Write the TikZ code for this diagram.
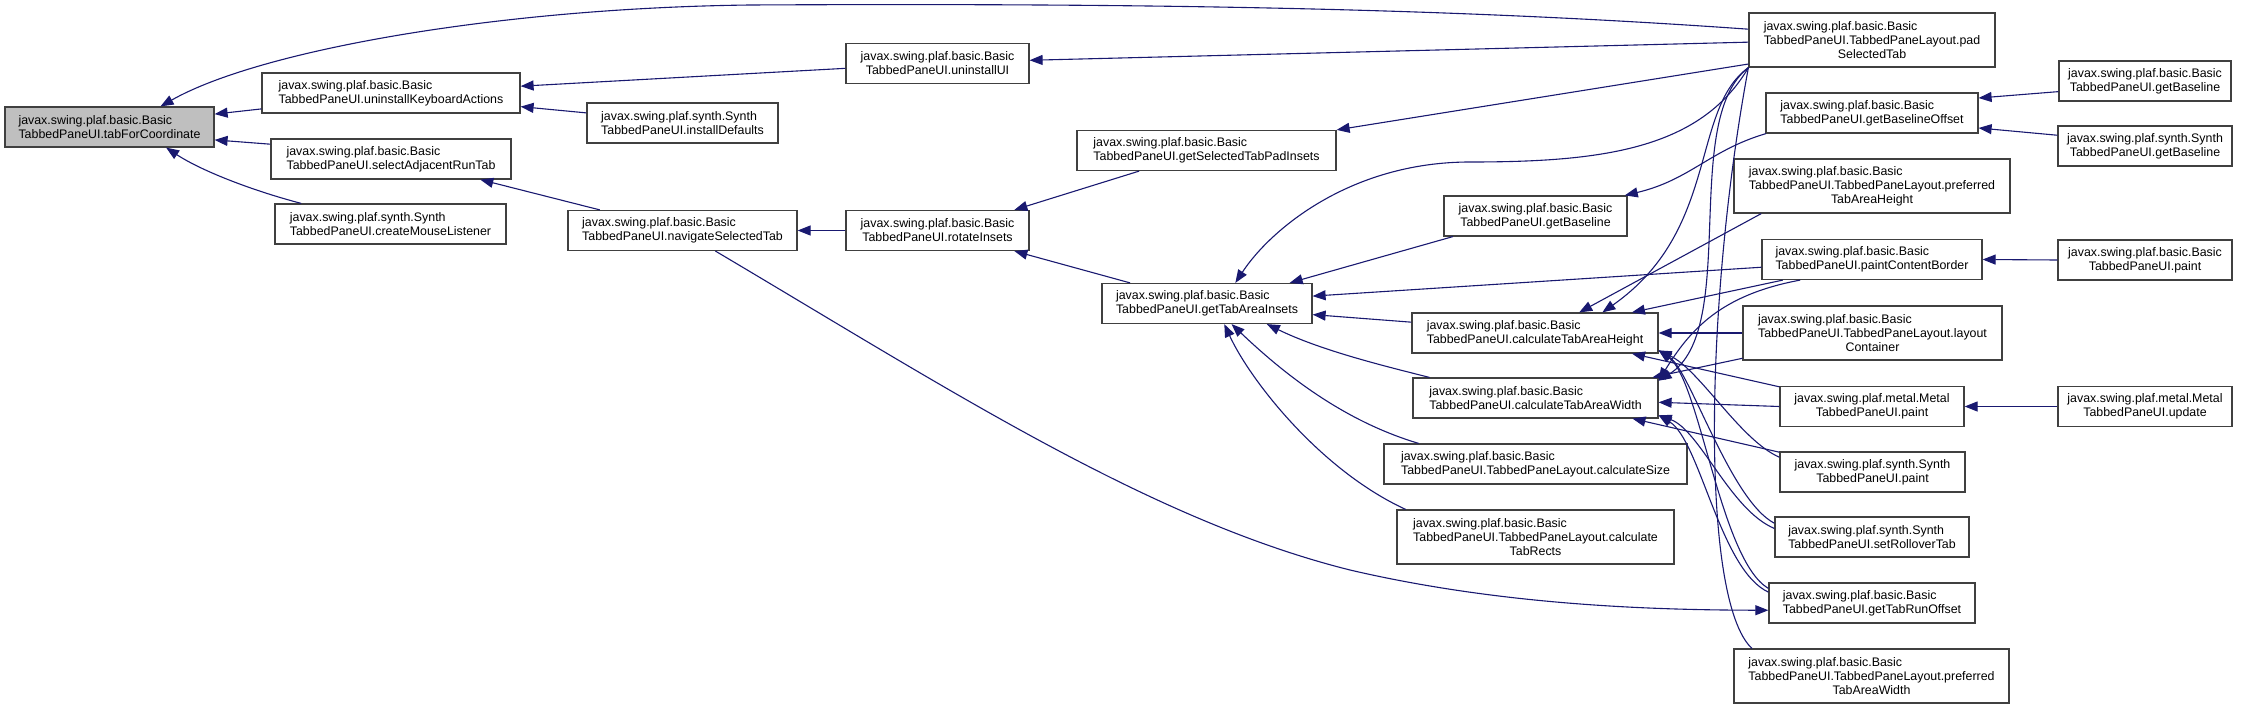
\documentclass[tikz,border=0pt]{standalone}
\usepackage{fontspec}
\setmainfont{Liberation Sans}
\usetikzlibrary{arrows.meta}
\definecolor{edgeblue}{RGB}{25,25,112}
\definecolor{boxline}{RGB}{64,64,64}
\definecolor{rootfill}{RGB}{191,191,191}
\tikzset{
  fn/.style={draw=boxline, line width=1.2pt, fill=white, align=left, inner sep=0pt,
    minimum height=40pt, font=\fontsize{12.4}{14}\selectfont},
  root/.style={fn, fill=rootfill},
  call/.style={draw=edgeblue, line width=1.1pt, -{Triangle[length=13pt,width=10pt]}},
  link/.style={draw=edgeblue, line width=1.1pt}
}
\begin{document}
\begin{tikzpicture}[x=1pt, y=-1pt]
    \useasboundingbox (0,0) rectangle (2249,709);

    % Root (left)
    \node (tabForCoord) at (109.5,127) [root, minimum width=209pt] {javax.swing.plaf.basic.Basic\\TabbedPaneUI.tabForCoordinate};

    % Second column
    \node (uninstallKbd) at (391,93) [fn, minimum width=258pt] {javax.swing.plaf.basic.Basic\\TabbedPaneUI.uninstallKeyboardActions};
    \node (selectAdjRun) at (391,159) [fn, minimum width=240pt] {javax.swing.plaf.basic.Basic\\TabbedPaneUI.selectAdjacentRunTab};
    \node (createMouse) at (390.5,224) [fn, minimum width=231pt] {javax.swing.plaf.synth.Synth\\TabbedPaneUI.createMouseListener};

    % Third column
    \node (installDef) at (682.5,123) [fn, minimum width=191pt] {javax.swing.plaf.synth.Synth\\TabbedPaneUI.installDefaults};
    \node (navigateSel) at (682.5,230.5) [fn, minimum width=229pt] {javax.swing.plaf.basic.Basic\\TabbedPaneUI.navigateSelectedTab};

    % Fourth column
    \node (uninstallUI) at (937.5,63.5) [fn, minimum width=183pt] {javax.swing.plaf.basic.Basic\\\hfill TabbedPaneUI.uninstallUI\hfill\mbox{}};
    \node (rotateInsets) at (937.5,230.5) [fn, minimum width=183pt] {javax.swing.plaf.basic.Basic\\\hfill TabbedPaneUI.rotateInsets\hfill\mbox{}};

    % Fifth column
    \node (getSelPad) at (1206.5,150.5) [fn, minimum width=259pt] {javax.swing.plaf.basic.Basic\\TabbedPaneUI.getSelectedTabPadInsets};
    \node (getTabAreaIns) at (1207,303.5) [fn, minimum width=210pt] {javax.swing.plaf.basic.Basic\\TabbedPaneUI.getTabAreaInsets};

    % Sixth column
    \node (getBaseMid) at (1535.5,216) [fn, minimum width=183pt] {javax.swing.plaf.basic.Basic\\\hfill TabbedPaneUI.getBaseline\hfill\mbox{}};
    \node (calcHeight) at (1535,333) [fn, minimum width=246pt] {javax.swing.plaf.basic.Basic\\TabbedPaneUI.calculateTabAreaHeight};
    \node (calcWidth) at (1535.5,398) [fn, minimum width=245pt] {javax.swing.plaf.basic.Basic\\TabbedPaneUI.calculateTabAreaWidth};
    \node (calcSize) at (1535.5,464) [fn, minimum width=303pt] {javax.swing.plaf.basic.Basic\\TabbedPaneUI.TabbedPaneLayout.calculateSize};
    \node (calcRects) at (1535.5,537) [fn, minimum width=277pt, minimum height=54pt] {javax.swing.plaf.basic.Basic\\TabbedPaneUI.TabbedPaneLayout.calculate\\\hfill TabRects\hfill\mbox{}};

    % Seventh column
    \node (padSel) at (1872,40) [fn, minimum width=246pt, minimum height=54pt] {javax.swing.plaf.basic.Basic\\TabbedPaneUI.TabbedPaneLayout.pad\\\hfill SelectedTab\hfill\mbox{}};
    \node (getBaseOff) at (1872,113) [fn, minimum width=212pt] {javax.swing.plaf.basic.Basic\\TabbedPaneUI.getBaselineOffset};
    \node (prefHeight) at (1872,186) [fn, minimum width=276pt, minimum height=54pt] {javax.swing.plaf.basic.Basic\\TabbedPaneUI.TabbedPaneLayout.preferred\\\hfill TabAreaHeight\hfill\mbox{}};
    \node (paintBorder) at (1872,259.5) [fn, minimum width=220pt] {javax.swing.plaf.basic.Basic\\TabbedPaneUI.paintContentBorder};
    \node (layoutCont) at (1872.5,333) [fn, minimum width=259pt, minimum height=54pt] {javax.swing.plaf.basic.Basic\\TabbedPaneUI.TabbedPaneLayout.layout\\\hfill Container\hfill\mbox{}};
    \node (metalPaint) at (1872,406.5) [fn, minimum width=184pt] {javax.swing.plaf.metal.Metal\\\hfill TabbedPaneUI.paint\hfill\mbox{}};
    \node (synthPaint) at (1872.5,472) [fn, minimum width=185pt] {javax.swing.plaf.synth.Synth\\\hfill TabbedPaneUI.paint\hfill\mbox{}};
    \node (setRollover) at (1872,537) [fn, minimum width=194pt] {javax.swing.plaf.synth.Synth\\TabbedPaneUI.setRolloverTab};
    \node (getRunOff) at (1872,603) [fn, minimum width=206pt] {javax.swing.plaf.basic.Basic\\TabbedPaneUI.getTabRunOffset};
    \node (prefWidth) at (1871.5,676) [fn, minimum width=275pt, minimum height=54pt] {javax.swing.plaf.basic.Basic\\TabbedPaneUI.TabbedPaneLayout.preferred\\\hfill TabAreaWidth\hfill\mbox{}};

    % Eighth column
    \node (getBaseBasic) at (2145,81) [fn, minimum width=172pt] {javax.swing.plaf.basic.Basic\\\hfill TabbedPaneUI.getBaseline\hfill\mbox{}};
    \node (getBaseSynth) at (2145,146) [fn, minimum width=174pt] {javax.swing.plaf.synth.Synth\\\hfill TabbedPaneUI.getBaseline\hfill\mbox{}};
    \node (basicPaint) at (2145,260) [fn, minimum width=174pt] {javax.swing.plaf.basic.Basic\\\hfill TabbedPaneUI.paint\hfill\mbox{}};
    \node (metalUpdate) at (2145,406.5) [fn, minimum width=174pt] {javax.swing.plaf.metal.Metal\\\hfill TabbedPaneUI.update\hfill\mbox{}};

    % Edges into the root
    \draw[call] (padSel.175) .. controls (1450,8) and (1150,3) .. (750,5) .. controls (500,8) and (260,50) .. (tabForCoord.22);
    \draw[call] (uninstallKbd.187) -- (tabForCoord.7);
    \draw[call] (selectAdjRun.173) -- (tabForCoord.353);
    \draw[call] (createMouse.167) .. controls (250,190) and (200,170) .. (tabForCoord.340);

    % Left half
    \draw[call] (uninstallUI.183) -- (uninstallKbd.3);
    \draw[call] (installDef.174) -- (uninstallKbd.354);
    \draw[call] (padSel.181) -- (uninstallUI.2);
    \draw[call] (navigateSel.166) -- (selectAdjRun.347);
    \draw[call] (rotateInsets.west) -- (navigateSel.east);
    \draw[call] (getSelPad.197) -- (rotateInsets.15);
    \draw[call] (getTabAreaIns.165) -- (rotateInsets.345);
    \draw[call] (padSel.191) -- (getSelPad.9);
    \draw[call] (navigateSel.328) .. controls (950,390) and (1150,520) .. (1350,570) .. controls (1500,605) and (1650,610) .. (getRunOff.184);

    % Into getTabAreaInsets
    \draw[call] (padSel.south west) .. controls (1700,150) and (1600,162) .. (1470,162) .. controls (1350,162) and (1270,230) .. (getTabAreaIns.36);
    \draw[call] (getBaseMid.194) -- (getTabAreaIns.14);
    \draw[call] (paintBorder.184) -- (getTabAreaIns.4);
    \draw[call] (calcHeight.175) -- (getTabAreaIns.354);
    \draw[call] (calcWidth.169) .. controls (1380,365) and (1320,350) .. (getTabAreaIns.341);
    \draw[call] (calcSize.170) .. controls (1340,420) and (1280,370) .. (getTabAreaIns.320);
    \draw[call] (calcRects.168) .. controls (1320,470) and (1250,380) .. (getTabAreaIns.310);

    % Baseline
    \draw[call] (getBaseOff.191) .. controls (1710,150) and (1690,180) .. (getBaseMid.13);
    \draw[call] (getBaseBasic.187) -- (getBaseOff.8);
    \draw[call] (getBaseSynth.173) -- (getBaseOff.352);

    % Into calculateTabAreaHeight
    \draw[call] (prefHeight.194) -- (calcHeight.25);
    \draw[call] (padSel.south west) .. controls (1690,110) and (1720,230) .. (calcHeight.17);
    \draw[call] (paintBorder.193) -- (calcHeight.12);
    \draw[call] (layoutCont.west) -- (calcHeight.east);
    \draw[call] (metalPaint.168) -- (calcHeight.348);
    \draw[call] (synthPaint.171) .. controls (1740,440) and (1700,370) .. (calcHeight.352);
    \draw[call] (setRollover.172) .. controls (1730,500) and (1690,370) .. (calcHeight.352);
    \draw[call] (getRunOff.172) .. controls (1720,560) and (1700,380) .. (calcHeight.352);

    % Into calculateTabAreaWidth
    \draw[call] (layoutCont.191) -- (calcWidth.10);
    \draw[call] (padSel.south west) .. controls (1680,120) and (1740,330) .. (calcWidth.8);
    \draw[call] (paintBorder.196) .. controls (1720,295) and (1690,330) .. (calcWidth.8);
    \draw[call] (metalPaint.west) -- (calcWidth.358);
    \draw[call] (synthPaint.168) -- (calcWidth.348);
    \draw[call] (setRollover.175) .. controls (1730,510) and (1700,430) .. (calcWidth.352);
    \draw[call] (getRunOff.174) .. controls (1720,570) and (1700,440) .. (calcWidth.352);
    \draw[link] (prefWidth.167) .. controls (1700,600) and (1705,300) .. (padSel.south west);

    % Right column
    \draw[call] (basicPaint.west) -- (paintBorder.east);
    \draw[call] (metalUpdate.west) -- (metalPaint.east);
\end{tikzpicture}
\end{document}
